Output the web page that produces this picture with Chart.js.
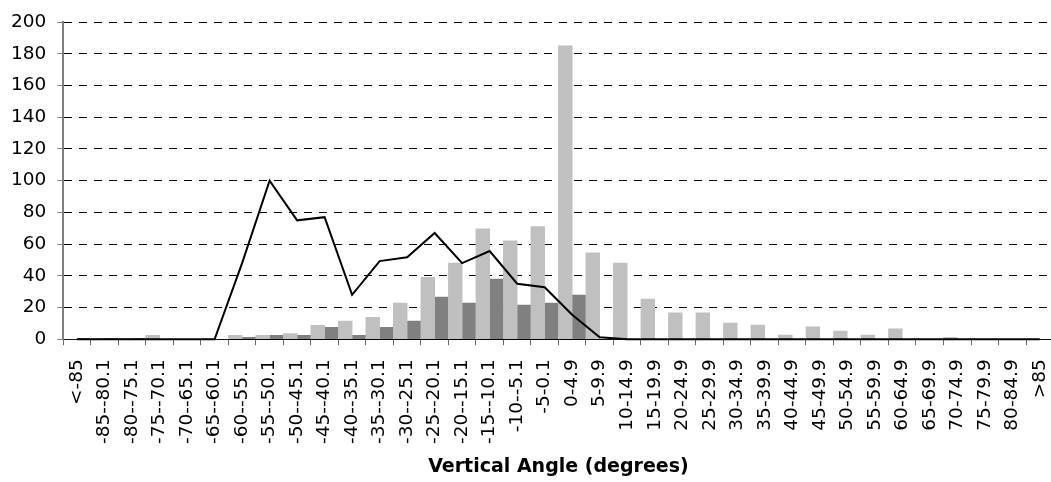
<!DOCTYPE html>
<html>
<head>
<meta charset="utf-8">
<script src="https://cdn.jsdelivr.net/npm/chart.js@4"></script>
<style>
  html, body { margin: 0; padding: 0; background: #fff; overflow: hidden; }
  #wrap { width: 1076px; height: 482px; }
</style>
</head>
<body>
<div id="wrap"><canvas id="chart" width="1076" height="482"></canvas></div>
<script>
// Angle bins (degrees)
const categories = [
  '<-85', '-85--80.1', '-80--75.1', '-75--70.1', '-70--65.1', '-65--60.1',
  '-60--55.1', '-55--50.1', '-50--45.1', '-45--40.1', '-40--35.1', '-35--30.1',
  '-30--25.1', '-25--20.1', '-20--15.1', '-15--10.1', '-10--5.1', '-5-0.1',
  '0-4.9', '5-9.9', '10-14.9', '15-19.9', '20-24.9', '25-29.9',
  '30-34.9', '35-39.9', '40-44.9', '45-49.9', '50-54.9', '55-59.9',
  '60-64.9', '65-69.9', '70-74.9', '75-79.9', '80-84.9', '>85'
];

// Light grey columns
const lightCounts = [
  0, 0.5, 0.5, 2.5, 0, 0,
  2.5, 2.5, 3.6, 8.7, 11.5, 13.8,
  22.8, 39, 48, 69.7, 62, 71,
  185, 54.5, 48, 25.4, 16.6, 16.6,
  10.2, 9, 2.7, 7.8, 5.2, 2.7,
  6.5, 0, 1.2, 0, 0, 0
];

// Dark grey columns
const darkCounts = [
  0.5, 0.5, 0.5, 0, 0, 0,
  1.2, 2.4, 2.4, 7.5, 2.4, 7.5,
  11.4, 26.6, 22.8, 38, 21.6, 22.8,
  27.8, 0, 0, 0, 0, 0,
  0, 0, 0, 0, 0, 0,
  0, 0, 0, 0, 0, 0
];

// Black line
const lineCounts = [
  0, 0, 0, 0, 0, 0,
  48, 100, 75, 77, 28, 49.3,
  51.7, 67, 48, 55.6, 35, 32.8,
  15.5, 1.3, 0, 0, 0, 0,
  0, 0, 0, 0, 0, 0,
  0, 0, 0, 0, 0, 0
];

const FONT = 'DejaVu Sans';

new Chart(document.getElementById('chart'), {
  type: 'bar',
  data: {
    labels: categories,
    datasets: [
      {
        type: 'line',
        data: lineCounts,
        borderColor: '#000',
        borderWidth: 2,
        pointRadius: 0,
        tension: 0,
        fill: false,
        clip: false,
        order: 0
      },
      { data: lightCounts, backgroundColor: '#c0c0c0', borderWidth: 0, order: 1 },
      { data: darkCounts, backgroundColor: '#808080', borderWidth: 0, order: 1 }
    ]
  },
  options: {
    responsive: false,
    animation: false,
    devicePixelRatio: 1,
    layout: { padding: { left: 0, top: 22, right: 2, bottom: 5 } },
    plugins: { legend: { display: false }, tooltip: { enabled: false } },
    datasets: { bar: { barPercentage: 1, categoryPercentage: 1 } },
    scales: {
      x: {
        offset: true,
        grid: {
          offset: true,
          drawOnChartArea: false,
          drawTicks: true,
          tickLength: 6,
          tickColor: '#666',
          tickWidth: 1
        },
        border: { color: '#000', width: 1 },
        ticks: {
          autoSkip: false,
          maxRotation: 90,
          minRotation: 90,
          padding: 14,
          color: '#000',
          font: { family: FONT, size: 18.5 }
        },
        title: {
          display: true,
          text: 'Vertical Angle (degrees)',
          color: '#000',
          font: { family: FONT, size: 19, weight: 'bold', lineHeight: 1.0 },
          padding: { top: 0, bottom: 0 }
        }
      },
      y: {
        min: 0,
        max: 200,
        ticks: {
          stepSize: 20,
          padding: 11,
          color: '#000',
          font: { family: FONT, size: 18.5 }
        },
        grid: {
          color: '#000',
          lineWidth: 1,
          tickLength: 6,
          tickColor: '#808080',
          tickBorderDash: []
        },
        border: { color: '#808080', width: 2, dash: [8, 7] }
      }
    }
  }
});
</script>
</body>
</html>
